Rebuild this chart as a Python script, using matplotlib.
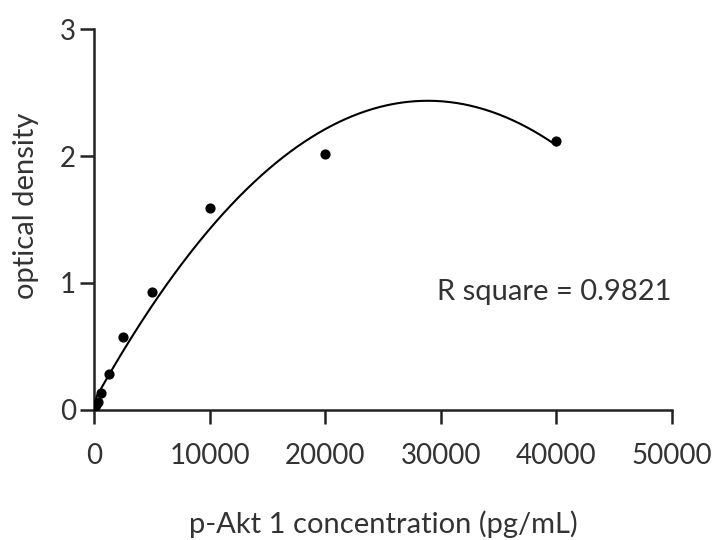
import numpy as np
import matplotlib.pyplot as plt

# standard concentrations (pg/mL) and measured optical density
conc = [0, 156, 312, 625, 1250, 2500, 5000, 10000, 20000, 40000]
od = [0.0, 0.04, 0.06, 0.13, 0.28, 0.575, 0.93, 1.59, 2.02, 2.12]
x_ticks = [0, 10000, 20000, 30000, 40000, 50000]
y_ticks = [0, 1, 2, 3]

plt.rcParams['font.family'] = ['Lato', 'DejaVu Sans']
text_col = '#333333'

fig = plt.figure(figsize=(7.14, 5.4), dpi=100)
ax = fig.add_axes([0.132, 0.241, 0.809, 0.705])

# second order polynomial fit
coef = np.polyfit(conc, od, 2)
xs = np.linspace(0, max(conc), 400)
ax.plot(xs, np.polyval(coef, xs), color='black', lw=1.5)
ax.scatter(conc, od, s=40, color='black', zorder=3)

ax.set_xlim(0, 50000)
ax.set_ylim(0, 3)
ax.set_xticks(x_ticks)
ax.set_yticks(y_ticks)
ax.spines['top'].set_visible(False)
ax.spines['right'].set_visible(False)
for s in ['left', 'bottom']:
    ax.spines[s].set_linewidth(1.8)
    ax.spines[s].set_color('#222222')
ax.tick_params(width=1.8, length=10, labelsize=20, colors='#222222', labelcolor=text_col)
ax.tick_params(axis='x', pad=14)
ax.tick_params(axis='y', pad=3)
for spine in ax.spines.values():
    spine.set_clip_on(False)

ax.set_xlabel('p-Akt 1 concentration (pg/mL)', fontsize=21, color=text_col, labelpad=30)
ax.set_ylabel('optical density', fontsize=21, color=text_col)
ax.yaxis.set_label_coords(-0.095, 0.535)
ax.text(1.0, 0.31, 'R square = 0.9821', transform=ax.transAxes, ha='right',
        va='center', fontsize=21, color=text_col)

fig.savefig('out.png', dpi=100)
